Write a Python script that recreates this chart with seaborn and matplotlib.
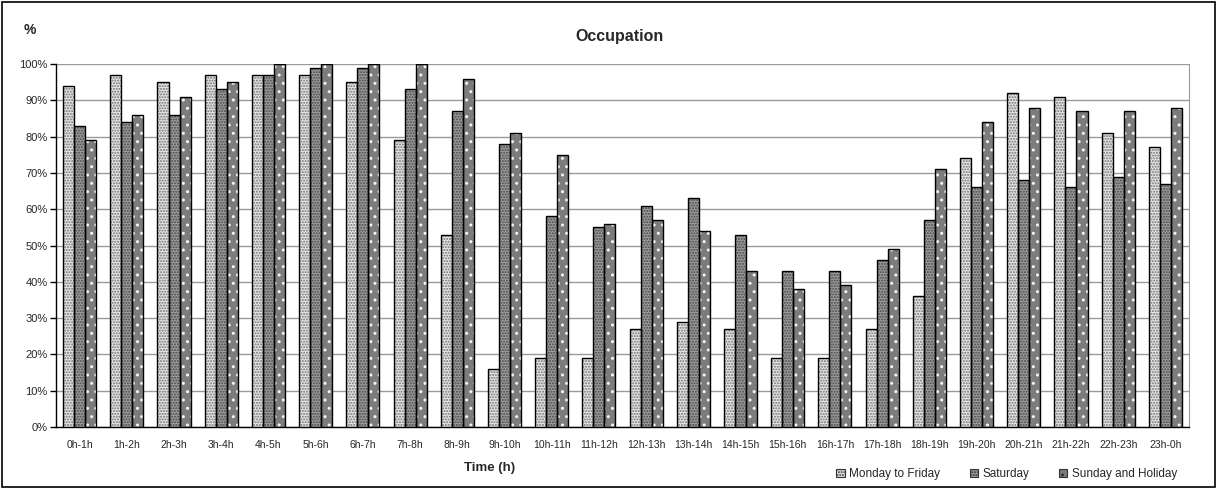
import numpy as np
import pandas as pd
import seaborn as sns
import matplotlib
matplotlib.use("Agg")
import matplotlib.pyplot as plt
from matplotlib.patches import Rectangle, Patch
from matplotlib.ticker import PercentFormatter

hours = ["0h-1h", "1h-2h", "2h-3h", "3h-4h", "4h-5h", "5h-6h", "6h-7h", "7h-8h",
         "8h-9h", "9h-10h", "10h-11h", "11h-12h", "12h-13h", "13h-14h", "14h-15h",
         "15h-16h", "16h-17h", "17h-18h", "18h-19h", "19h-20h", "20h-21h", "21h-22h",
         "22h-23h", "23h-0h"]
weekday = [94, 97, 95, 97, 97, 97, 95, 79, 53, 16, 19, 19, 27, 29, 27, 19, 19, 27, 36, 74, 92, 91, 81, 77]
saturday = [83, 84, 86, 93, 97, 99, 99, 93, 87, 78, 58, 55, 61, 63, 53, 43, 43, 46, 57, 66, 68, 66, 69, 67]
sunday = [79, 86, 91, 95, 100, 100, 100, 100, 96, 81, 75, 56, 57, 54, 43, 38, 39, 49, 71, 84, 88, 87, 87, 88]
series_names = ["Monday to Friday", "Saturday", "Sunday and Holiday"]

df = pd.DataFrame({
    "Time": hours * 3,
    "Occupation": weekday + saturday + sunday,
    "Day": [series_names[0]] * 24 + [series_names[1]] * 24 + [series_names[2]] * 24,
})

sns.set_style("white")
plt.rcParams["font.family"] = ["Liberation Sans", "DejaVu Sans"]
plt.rcParams["hatch.linewidth"] = 1.0

fig = plt.figure(figsize=(12.17, 4.88), dpi=100)
ax = fig.add_axes([56 / 1217, 1 - 427 / 488, (1189 - 56) / 1217, (427 - 64) / 488])

# fill colour, hatch pattern, hatch colour per series
styles = [
    ("#e6e6e6", "......", "#707070"),
    ("#9c9c9c", "......", "#484848"),
    ("#7c7c7c", "..", "#f4f4f4"),
]

sns.barplot(data=df, x="Time", y="Occupation", hue="Day", hue_order=series_names,
            order=hours, palette=[s[0] for s in styles], width=0.7, gap=0,
            saturation=1, legend=False, ax=ax, zorder=3)

for cont, (fc, hatch, hc) in zip(ax.containers, styles):
    for bar in cont:
        bar.set_facecolor(fc)
        bar.set_hatch(hatch)
        bar.set_edgecolor(hc)
        bar.set_linewidth(0)
        ax.add_patch(Rectangle((bar.get_x(), bar.get_y()), bar.get_width(), bar.get_height(),
                               fill=False, edgecolor="black", linewidth=1.0, zorder=4))

ax.set_ylim(0, 100)
ax.set_xlim(-0.5, len(hours) - 0.5)
ax.set_yticks(np.arange(0, 101, 10))
ax.yaxis.set_major_formatter(PercentFormatter(decimals=0))
ax.grid(axis="y", color="#9a9a9a", linewidth=1.0, zorder=0)
ax.set_axisbelow(True)

ax.set_xticks(np.arange(-0.5, len(hours)), minor=True)
ax.tick_params(axis="x", which="major", length=0, labelsize=7.5, pad=9)
ax.tick_params(axis="x", which="minor", length=5, width=1, color="black", direction="out")
ax.tick_params(axis="y", which="major", length=4, width=1, color="black", direction="out",
               labelsize=8, left=True, pad=2)

for side in ["left", "bottom"]:
    ax.spines[side].set_color("black")
    ax.spines[side].set_linewidth(1.0)
ax.spines["right"].set_color("#9a9a9a")
ax.spines["top"].set_visible(False)

ax.set_xlabel("")
ax.set_ylabel("")

fig.text(620 / 1217, 1 - 36 / 488, "Occupation", ha="center", va="center",
         fontsize=11.5, fontweight="bold")
fig.text(30 / 1217, 1 - 30 / 488, "%", ha="center", va="center", fontsize=10, fontweight="bold")
fig.text(490 / 1217, 1 - 468 / 488, "Time (h)", ha="center", va="center",
         fontsize=9.5, fontweight="bold")

handles = [Patch(facecolor=fc, hatch=hatch, edgecolor="#333333", linewidth=0.8)
           for fc, hatch, hc in styles]
fig.legend(handles, series_names, loc="center right", ncol=3, frameon=False,
           bbox_to_anchor=(1188 / 1217, 1 - 474 / 488), fontsize=8.5,
           handlelength=0.7, handleheight=0.7, handletextpad=0.4, columnspacing=2.5)

fig.patches.append(Rectangle((0.0015, 0.003), 0.997, 0.993, transform=fig.transFigure,
                             fill=False, edgecolor="black", linewidth=1.2))

fig.savefig("out.png", dpi=100)
